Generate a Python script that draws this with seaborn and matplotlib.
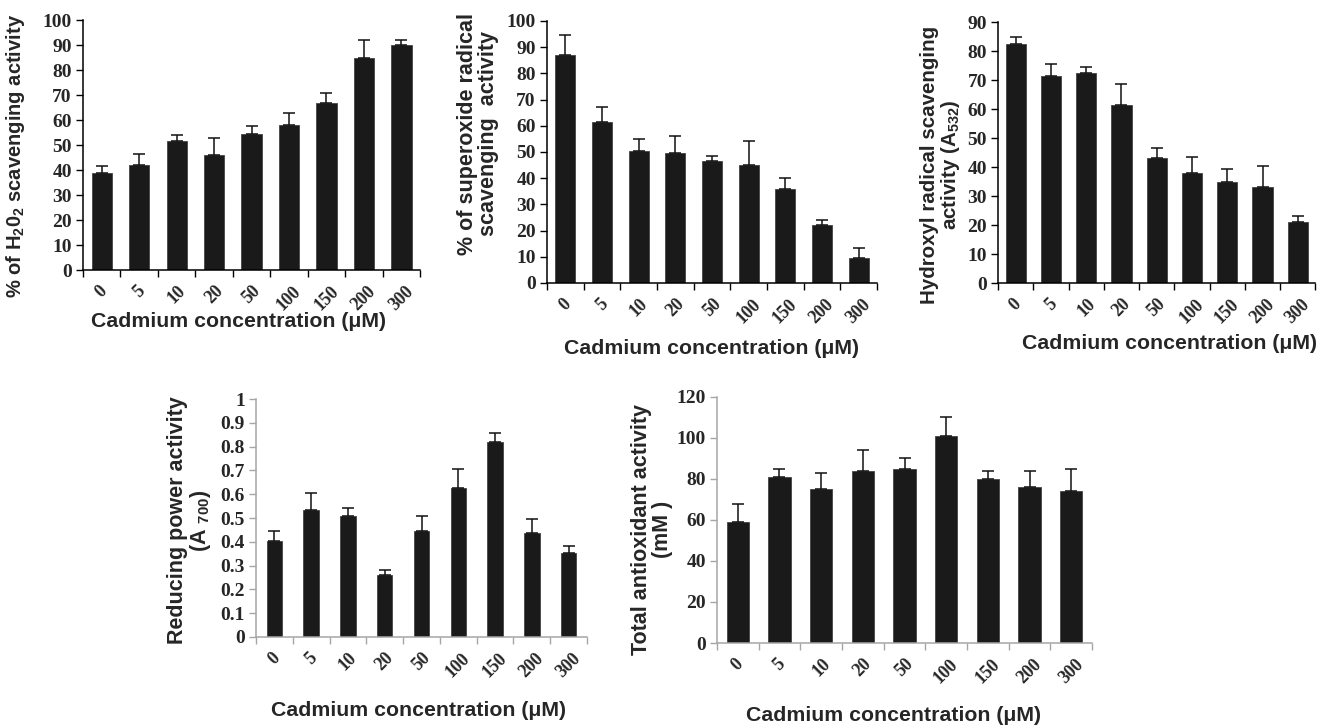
import matplotlib
matplotlib.use("Agg")
from matplotlib import pyplot as plt
from matplotlib.ticker import MultipleLocator, FuncFormatter
import numpy as np
import pandas as pd
import seaborn as sns

# data
conc = ["0", "5", "10", "20", "50", "100", "150", "200", "300"]
h2o2 = [39, 42, 51.5, 46, 54.5, 58, 67, 85, 90]
h2o2_err = [2.5, 4.5, 2.5, 7, 3, 5, 4, 7, 2]
superoxide = [87, 61.5, 50.5, 49.5, 46.5, 45, 36, 22, 9.5]
superoxide_err = [7.5, 5.5, 4.5, 6.5, 2, 9, 4, 2, 4]
hydroxyl = [82.5, 71.5, 72.5, 61.5, 43, 38, 35, 33, 21]
hydroxyl_err = [2.5, 4, 2, 7, 3.5, 5.5, 4.5, 7.5, 2]
reducing = [0.405, 0.535, 0.51, 0.262, 0.447, 0.627, 0.818, 0.435, 0.351]
reducing_err = [0.04, 0.07, 0.03, 0.02, 0.061, 0.08, 0.04, 0.06, 0.03]
total = [59, 81, 75, 84, 85, 101, 80, 76, 74]
total_err = [9, 4, 8, 10, 5, 9, 4, 8, 11]

sns.set_style("ticks")
plt.rcParams["font.family"] = ["Liberation Sans", "DejaVu Sans"]
plt.rcParams["mathtext.fontset"] = "custom"
plt.rcParams["mathtext.rm"] = "Liberation Sans:bold"
plt.rcParams["mathtext.it"] = "Liberation Sans:bold"
plt.rcParams["mathtext.bf"] = "Liberation Sans:bold"

BAR = "#1a1a1a"
XLAB = "Cadmium concentration (\u03bcM)"

fig = plt.figure(figsize=(13.17, 7.26), dpi=100)


def panel(rect, vals, errs, ymax, ystep, ylabel, ylab_xy, xlab_xy, width,
          spine_color="black", ylab_size=15.5):
    ax = fig.add_axes(rect)
    df = pd.DataFrame({"conc": conc, "val": vals})
    sns.barplot(data=df, x="conc", y="val", order=conc, color=BAR, width=width,
                errorbar=None, saturation=1, ax=ax, edgecolor="#444444", linewidth=0.6)
    ax.errorbar(np.arange(len(conc)), vals, yerr=[np.zeros(len(conc)), errs],
                fmt="none", ecolor="#111111", elinewidth=1.1, capsize=4.5, capthick=1.1)
    ax.set_xlim(-0.5, len(conc) - 0.5)
    ax.set_ylim(0, ymax)
    ax.yaxis.set_major_locator(MultipleLocator(ystep))
    ax.yaxis.set_major_formatter(FuncFormatter(lambda v, p: "%g" % round(v, 3)))
    ax.set_xticks(np.arange(len(conc)))
    ax.set_xticklabels(conc, rotation=45, ha="center", rotation_mode="default",
                       fontfamily="Liberation Serif", fontweight="bold", fontsize=13)
    ax.set_xticks(np.arange(-0.5, len(conc)), minor=True)
    ax.tick_params(axis="x", which="major", length=0, pad=9)
    ax.tick_params(axis="x", which="minor", length=5, width=1, color=spine_color, direction="out")
    ax.tick_params(axis="y", length=5, width=1, color=spine_color, direction="out", pad=3)
    for lab in ax.get_yticklabels():
        lab.set_fontfamily("Liberation Serif")
        lab.set_fontweight("bold")
        lab.set_fontsize(14)
    sns.despine(ax=ax)
    for s in ("left", "bottom"):
        ax.spines[s].set_color(spine_color)
        ax.spines[s].set_linewidth(1.1)
    ax.set_ylabel(ylabel, fontsize=ylab_size, fontweight="bold", linespacing=1.0, va="center")
    ax.yaxis.set_label_coords(*ylab_xy)
    ax.set_xlabel(XLAB, fontsize=15.3, fontweight="bold", va="center")
    ax.xaxis.set_label_coords(*xlab_xy)
    return ax


panel([0.063, 0.628, 0.256, 0.344], h2o2, h2o2_err, 100, 10,
      r"% of H$_2$0$_2$ scavenging activity", (-0.20, 0.456), (0.46, -0.204), 0.54,
      ylab_size=14.5)
panel([0.4153, 0.6102, 0.2506, 0.361], superoxide, superoxide_err, 100, 10,
      "% of superoxide radical\nscavenging  activity", (-0.21, 0.57), (0.5, -0.25), 0.55)
panel([0.7578, 0.610, 0.241, 0.3595], hydroxyl, hydroxyl_err, 90, 10,
      "Hydroxyl radical scavenging\nactivity (A$_{532}$)", (-0.18, 0.452), (0.54, -0.23), 0.57,
      ylab_size=14.8)
panel([0.1944, 0.1226, 0.2513, 0.3278], reducing, reducing_err, 1.0, 0.1,
      "Reducing power activity\n(A $_{700}$)", (-0.2, 0.49), (0.49, -0.307), 0.42,
      spine_color="#a6a6a6")
panel([0.5444, 0.1143, 0.2848, 0.339], total, total_err, 120, 20,
      "Total antioxidant activity\n(mM )", (-0.173, 0.46), (0.47, -0.293), 0.53,
      spine_color="#a6a6a6")

fig.savefig("out.png", dpi=100)
